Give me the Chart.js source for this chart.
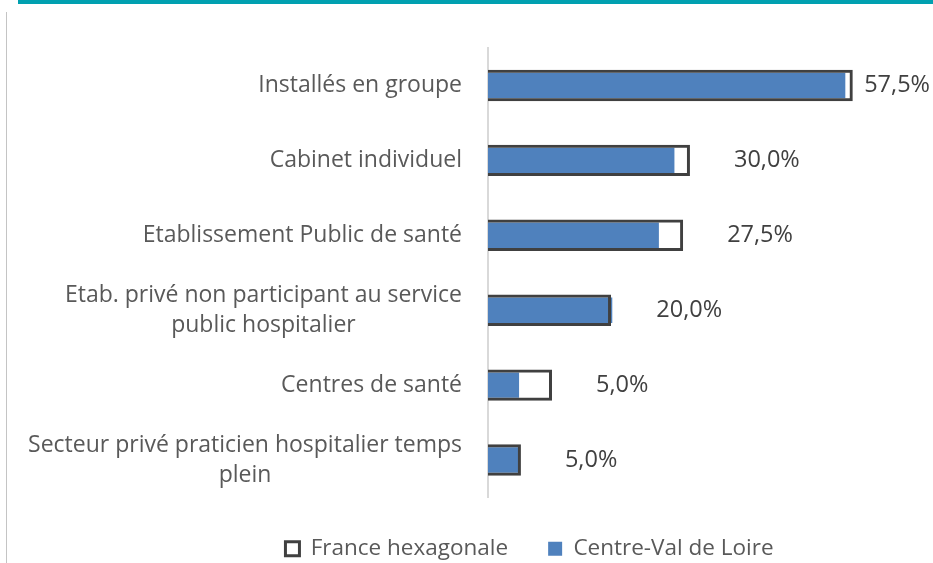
<!DOCTYPE html>
<html>
<head>
<meta charset="utf-8">
<script src="https://cdn.jsdelivr.net/npm/chart.js@4.4.1/dist/chart.umd.min.js"></script>
<style>
  html, body { margin: 0; padding: 0; background: #fff; }
  #wrap { position: relative; width: 933px; height: 563px; }
  #topline { position: absolute; left: 18px; top: 0; width: 915px; height: 4px; background: #00a0b0; }
  #leftline { position: absolute; left: 6px; top: 12px; width: 1px; height: 551px; background: #c4c4c4; }
</style>
</head>
<body>
<div id="wrap">
  <canvas id="chart" width="933" height="563"></canvas>
  <div id="topline"></div>
  <div id="leftline"></div>
</div>
<script>
// categories (multi-line labels as arrays)
var categories = [
  "Installés en groupe",
  "Cabinet individuel",
  "Etablissement Public de santé",
  ["Etab. privé non participant au service", "public hospitalier"],
  "Centres de santé",
  ["Secteur privé praticien hospitalier temps", "plein"]
];
// series values (%)
var franceValues = [58.7, 32.5, 31.4, 19.8, 10.3, 5.3];
var centreValues = [57.5, 30.0, 27.5, 20.0, 5.0, 5.0];

var FONT = "'Open Sans', sans-serif";
var TEXT = "#595959";

// draws the category labels (centered lines, right aligned block) and value labels
var labelsPlugin = {
  id: "labelsPlugin",
  afterDraw: function(chart) {
    var ctx = chart.ctx;
    var y = chart.scales.y, x = chart.scales.x;
    ctx.save();
    ctx.font = "23px " + FONT;
    ctx.fillStyle = TEXT;
    ctx.textBaseline = "middle";
    ctx.textAlign = "center";
    categories.forEach(function(cat, i) {
      var lines = Array.isArray(cat) ? cat : [cat];
      var maxW = 0;
      lines.forEach(function(l) { maxW = Math.max(maxW, ctx.measureText(l).width); });
      var cx = y.right - 26 - maxW / 2;
      var cy = y.getPixelForValue(i);
      var lh = 30;
      lines.forEach(function(l, k) {
        ctx.fillText(l, cx, cy + (k - (lines.length - 1) / 2) * lh);
      });
    });
    // values of Centre-Val de Loire
    ctx.textAlign = "left";
    ctx.fillStyle = "#404040";
    ctx.font = "23.5px " + FONT;
    centreValues.forEach(function(v, i) {
      var txt = v.toFixed(1).replace(".", ",") + "%";
      var end = x.getPixelForValue(Math.max(v, franceValues[i]));
      var w = ctx.measureText(txt).width;
      var tx = Math.min(end + 44, chart.width - 3 - w);
      ctx.fillText(txt, tx, y.getPixelForValue(i));
    });
    ctx.restore();
  }
};

var data = {
  labels: categories,
  datasets: [
    {
      label: "France hexagonale",
      data: franceValues,
      backgroundColor: "rgba(255,255,255,0)",
      borderColor: "#404040",
      borderWidth: 3,
      borderSkipped: "start",
      barPercentage: 0.42,
      categoryPercentage: 1,
      grouped: false
    },
    {
      label: "Centre-Val de Loire",
      data: centreValues,
      backgroundColor: "#4f81bd",
      borderWidth: 0,
      barPercentage: 0.34,
      categoryPercentage: 1,
      grouped: false
    }
  ]
};

var options = {
  indexAxis: "y",
  responsive: false,
  animation: false,
  layout: {
    padding: { top: 48, bottom: -7, left: 136, right: 10 }
  },
  plugins: {
    tooltip: { enabled: false },
    legend: {
      display: true,
      position: "bottom",
      labels: {
        font: { family: FONT, size: 22.5 },
        color: TEXT,
        boxWidth: 14,
        boxHeight: 14,
        padding: 40
      }
    }
  },
  scales: {
    x: {
      display: false,
      min: 0,
      max: 70
    },
    y: {
      grid: { display: false },
      ticks: { display: false },
      border: { display: true, color: "#d9d9d9", width: 2 },
      afterFit: function(scale) { scale.width = 352; }
    }
  }
};

var chart = new Chart(document.getElementById("chart"), {
  type: "bar",
  data: data,
  options: options,
  plugins: [labelsPlugin]
});
</script>
</body>
</html>
